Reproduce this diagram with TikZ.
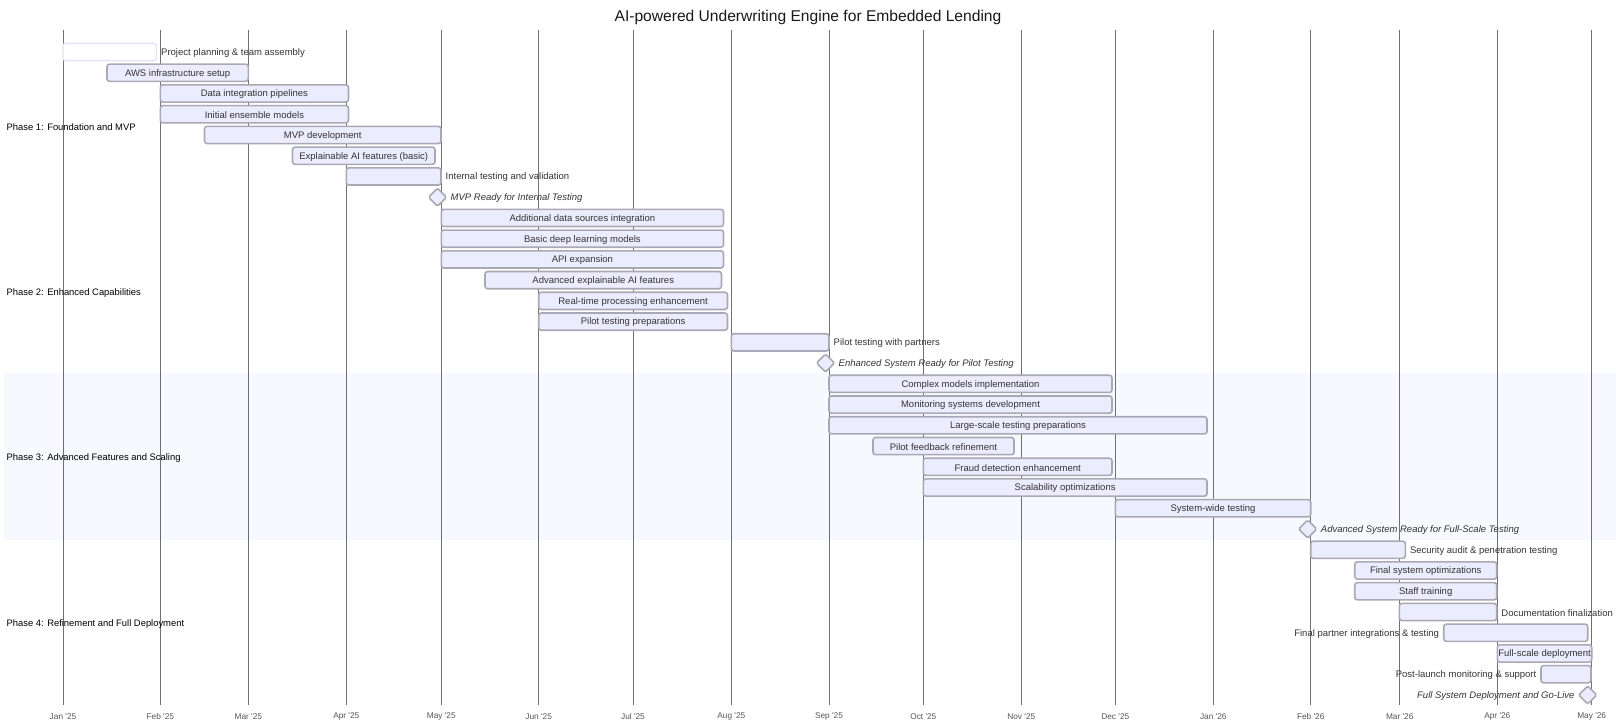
\documentclass[tikz,border=0pt]{standalone}
\usepackage{fontspec}
\setmainfont{Liberation Sans}
\definecolor{barfill}{HTML}{ECECFF}
\definecolor{barline}{HTML}{A9A9B4}
\definecolor{firstline}{HTML}{E4E4F8}
\definecolor{bandfill}{HTML}{F8F8FF}
\definecolor{gridc}{HTML}{707070}
\definecolor{txt}{HTML}{333333}
\definecolor{axtxt}{HTML}{555555}
\tikzset{
  bar/.style={draw=barline, fill=barfill, line width=1.6pt, rounded corners=2.6pt},
  firstbar/.style={draw=firstline, fill=white, line width=1.4pt, rounded corners=2.6pt},
  mstone/.style={draw=barline, fill=barfill, line width=1.6pt, rounded corners=1.5pt},
  lbl/.style={inner sep=0pt, text=txt, font=\fontsize{9.5}{11}\selectfont},
  mlbl/.style={inner sep=0pt, text=txt, font=\fontsize{9.5}{11}\selectfont\itshape},
  seclbl/.style={inner sep=0pt, anchor=west, text=black, font=\fontsize{9.4}{11}\selectfont},
  axlbl/.style={inner sep=0pt, text=axtxt, font=\fontsize{8.3}{10}\selectfont},
  gridl/.style={draw=gridc, line width=0.9pt},
  titlelbl/.style={inner sep=0pt, text=black!90, font=\fontsize{15.6}{18}\selectfont},
}
% #1 row, #2 x start, #3 x end, #4 label, #5 placement (c, r, l), #6 style
\newcommand{\gtask}[6]{%
  \pgfmathsetmacro{\yy}{-(52+(#1-1)*20.74)}%
  \pgfmathsetmacro{\ty}{\yy-0.9}%
  \draw[#6] (#2,\yy-8.6) rectangle (#3,\yy+8.6);
  \ifx c#5\node[lbl] (t#1) at ({(#2+#3)/2},\ty) {#4};\fi
  \ifx r#5\node[lbl, anchor=west] (t#1) at (#3+4.5,\ty) {#4};\fi
  \ifx l#5\node[lbl, anchor=east] (t#1) at (#2-4.5,\ty) {#4};\fi
}
% #1 row, #2 x centre, #3 label, #4 placement (r, l)
\newcommand{\gmile}[4]{%
  \pgfmathsetmacro{\yy}{-(52+(#1-1)*20.74)}%
  \pgfmathsetmacro{\ty}{\yy-0.9}%
  \draw[mstone] (#2-9,\yy) -- (#2,\yy+9) -- (#2+9,\yy) -- (#2,\yy-9) -- cycle;
  \ifx r#4\node[mlbl, anchor=west] (t#1) at (#2+13,\ty) {#3};\fi
  \ifx l#4\node[mlbl, anchor=east] (t#1) at (#2-13,\ty) {#3};\fi
}
\begin{document}
\begin{tikzpicture}[x=1pt,y=1pt]
\useasboundingbox (0,0) rectangle (1616,-725);
\clip (0,0) rectangle (1616,-725);
% section band (Phase 3)
\fill[bandfill] (4,-373.2) rectangle (1616,-539.6);
% title
\node[titlelbl] (title) at (808,-17) {AI-powered Underwriting Engine for Embedded Lending};
% grid lines and axis labels
\foreach \x/\m [count=\i] in {63/Jan \textquotesingle 25, 160.3/Feb \textquotesingle 25, 248.3/Mar \textquotesingle 25, 346.3/Apr \textquotesingle 25, 441.3/May \textquotesingle 25, 538.7/Jun \textquotesingle 25, 633/Jul \textquotesingle 25, 731.3/Aug \textquotesingle 25, 829/Sep \textquotesingle 25, 923.3/Oct \textquotesingle 25, 1021.3/Nov \textquotesingle 25, 1115.3/Dec \textquotesingle 25, 1213.3/Jan \textquotesingle 26, 1310.7/Feb \textquotesingle 26, 1399.7/Mar \textquotesingle 26, 1497.3/Apr \textquotesingle 26, 1591.7/May \textquotesingle 26}{
  \draw[gridl] (\x,-30) -- (\x,-705);
  \node[axlbl] (ax\i) at (\x,-716.5) {\m};
}
% section labels
\node[seclbl] (s1) at (6.5,-127) {Phase 1: Foundation and MVP};
\node[seclbl] (s2) at (6.5,-293) {Phase 2: Enhanced Capabilities};
\node[seclbl] (s3) at (6.5,-458.5) {Phase 3: Advanced Features and Scaling};
\node[seclbl] (s4) at (6.5,-624) {Phase 4: Refinement and Full Deployment};
% Phase 1
\gtask{1}{63}{156.5}{Project planning \& team assembly}{r}{firstbar}
\gtask{2}{107}{248.3}{AWS infrastructure setup}{c}{bar}
\gtask{3}{160.3}{348.5}{Data integration pipelines}{c}{bar}
\gtask{4}{160.3}{348.5}{Initial ensemble models}{c}{bar}
\gtask{5}{204.5}{441}{MVP development}{c}{bar}
\gtask{6}{292.5}{435}{Explainable AI features (basic)}{c}{bar}
\gtask{7}{346.3}{441}{Internal testing and validation}{r}{bar}
\gmile{8}{437.5}{MVP Ready for Internal Testing}{r}
% Phase 2
\gtask{9}{441.3}{723.5}{Additional data sources integration}{c}{bar}
\gtask{10}{441.3}{723.5}{Basic deep learning models}{c}{bar}
\gtask{11}{441.3}{723.5}{API expansion}{c}{bar}
\gtask{12}{485}{721.5}{Advanced explainable AI features}{c}{bar}
\gtask{13}{538.7}{727.5}{Real-time processing enhancement}{c}{bar}
\gtask{14}{538.7}{727.5}{Pilot testing preparations}{c}{bar}
\gtask{15}{731.3}{829}{Pilot testing with partners}{r}{bar}
\gmile{16}{825.5}{Enhanced System Ready for Pilot Testing}{r}
% Phase 3
\gtask{17}{829}{1112}{Complex models implementation}{c}{bar}
\gtask{18}{829}{1112}{Monitoring systems development}{c}{bar}
\gtask{19}{829}{1207}{Large-scale testing preparations}{c}{bar}
\gtask{20}{873}{1014}{Pilot feedback refinement}{c}{bar}
\gtask{21}{923.3}{1112}{Fraud detection enhancement}{c}{bar}
\gtask{22}{923.3}{1207}{Scalability optimizations}{c}{bar}
\gtask{23}{1115.3}{1310.7}{System-wide testing}{c}{bar}
\gmile{24}{1307.7}{Advanced System Ready for Full-Scale Testing}{r}
% Phase 4
\gtask{25}{1310.7}{1405.3}{Security audit \& penetration testing}{r}{bar}
\gtask{26}{1354.7}{1496.7}{Final system optimizations}{c}{bar}
\gtask{27}{1354.7}{1496.7}{Staff training}{c}{bar}
\gtask{28}{1399.3}{1496.7}{Documentation finalization}{r}{bar}
\gtask{29}{1443.7}{1587.7}{Final partner integrations \& testing}{l}{bar}
\gtask{30}{1497.3}{1591.7}{Full-scale deployment}{c}{bar}
\gtask{31}{1541}{1591}{Post-launch monitoring \& support}{l}{bar}
\gmile{32}{1587.7}{Full System Deployment and Go-Live}{l}
\end{tikzpicture}
\end{document}
